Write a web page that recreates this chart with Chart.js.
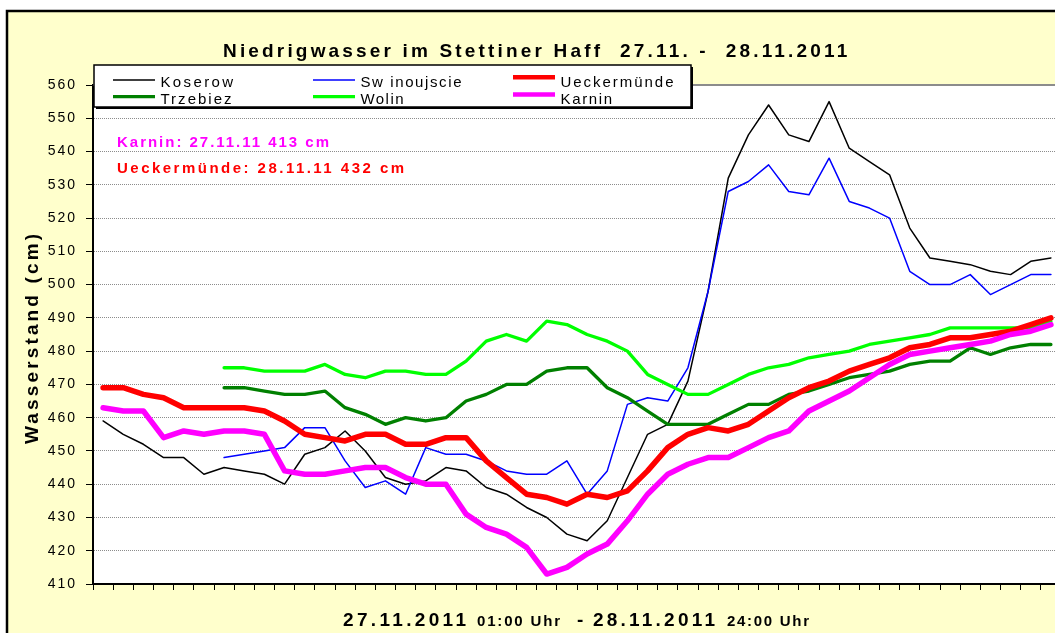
<!DOCTYPE html>
<html lang="de">
<head>
<meta charset="utf-8">
<title>Niedrigwasser im Stettiner Haff</title>
<script src="https://cdn.jsdelivr.net/npm/chart.js@4.4.1/dist/chart.umd.min.js"></script>
<style>
  html, body { margin: 0; padding: 0; background: #fff; overflow: hidden; }
  #wrap { position: absolute; left: 0; top: 0; width: 1080px; height: 633px; }
</style>
</head>
<body>
<div id="wrap"><canvas id="pegel" width="1080" height="633"></canvas></div>
<script>
/* ===============================
      DATEN (Wasserstand in cm)
   =============================== */

// Stunden 01:00 - 24:00 an zwei Tagen
const tage = ["27.11.", "28.11."];
const stunden = ["01:00", "02:00", "03:00", "04:00", "05:00", "06:00", "07:00", "08:00",
  "09:00", "10:00", "11:00", "12:00", "13:00", "14:00", "15:00", "16:00",
  "17:00", "18:00", "19:00", "20:00", "21:00", "22:00", "23:00", "24:00"];

const pegelNamen = ["Koserow", "Sw inoujscie", "Ueckermünde", "Trzebiez", "Wolin", "Karnin"];

const koserow = [459, 455, 452, 448, 448, 443, 445, 444, 443, 440, 449, 451, 456, 450, 442, 440,
  441, 445, 444, 439, 437, 433, 430, 425, 423, 429, 442, 455, 458, 471, 498, 532,
  545, 554, 545, 543, 555, 541, 537, 533, 517, 508, 507, 506, 504, 503, 507, 508];

const swinoujscie = [null, null, null, null, null, null, 448, 449, 450, 451, 457, 457, 447, 439, 441, 437,
  451, 449, 449, 447, 444, 443, 443, 447, 437, 444, 464, 466, 465, 475, 498, 528,
  531, 536, 528, 527, 538, 525, 523, 520, 504, 500, 500, 503, 497, 500, 503, 503];

const ueckermuende = [469, 469, 467, 466, 463, 463, 463, 463, 462, 459, 455, 454, 453, 455, 455, 452,
  452, 454, 454, 447, 442, 437, 436, 434, 437, 436, 438, 444, 451, 455, 457, 456,
  458, 462, 466, 469, 471, 474, 476, 478, 481, 482, 484, 484, 485, 486, 488, 490];

const trzebiez = [null, null, null, null, null, null, 469, 469, 468, 467, 467, 468, 463, 461, 458, 460,
  459, 460, 465, 467, 470, 470, 474, 475, 475, 469, 466, 462, 458, 458, 458, 461,
  464, 464, 467, 468, 470, 472, 473, 474, 476, 477, 477, 481, 479, 481, 482, 482];

const wolin = [null, null, null, null, null, null, 475, 475, 474, 474, 474, 476, 473, 472, 474, 474,
  473, 473, 477, 483, 485, 483, 489, 488, 485, 483, 480, 473, 470, 467, 467, 470,
  473, 475, 476, 478, 479, 480, 482, 483, 484, 485, 487, 487, 487, 487, 487, 489];

const karnin = [463, 462, 462, 454, 456, 455, 456, 456, 455, 444, 443, 443, 444, 445, 445, 442,
  440, 440, 431, 427, 425, 421, 413, 415, 419, 422, 429, 437, 443, 446, 448, 448,
  451, 454, 456, 462, 465, 468, 472, 476, 479, 480, 481, 482, 483, 485, 486, 488];

// Achse
const yMin = 410;
const yMax = 560;
const yStep = 10;

// Texte
const titelText = "Niedrigwasser im Stettiner Haff  27.11. -  28.11.2011";
const yTitel = "Wasserstand (cm)";
const hinweisKarnin = "Karnin: 27.11.11 413 cm";
const hinweisUeckermuende = "Ueckermünde: 28.11.11 432 cm";

const labels = tage.flatMap(t => stunden.map(h => t + " " + h));

/* ===============================
      HILFSFUNKTIONEN
   =============================== */
const FONT = '"Liberation Sans", Arial, sans-serif';

// Gesperrter Text, auf eine Zielbreite gebracht
function sperrText(ctx, text, x, y, font, color, width) {
  ctx.save();
  ctx.font = font;
  ctx.fillStyle = color;
  ctx.textAlign = "left";
  ctx.textBaseline = "alphabetic";
  let sp = 0;
  if (width && text.length > 1) {
    ctx.letterSpacing = "0px";
    sp = (width - ctx.measureText(text).width) / (text.length - 1);
  }
  ctx.letterSpacing = sp.toFixed(2) + "px";
  ctx.fillText(text, x, y);
  ctx.restore();
}

/* ===============================
      PLUGIN: Rahmen, Titel, Legende
   =============================== */
const dekor = {
  id: "dekor",
  beforeDraw(chart) {
    const { ctx, chartArea: a } = chart;
    ctx.save();
    ctx.fillStyle = "#ffffff";
    ctx.fillRect(0, 0, chart.width, chart.height);
    ctx.fillStyle = "#ffffcc";
    ctx.fillRect(7, 11, chart.width, chart.height);
    ctx.strokeStyle = "#000";
    ctx.lineWidth = 2.5;
    ctx.strokeRect(7, 11, chart.width + 20, chart.height + 20);
    ctx.fillStyle = "#ffffff";
    ctx.fillRect(a.left, a.top, a.right - a.left, a.bottom - a.top);
    ctx.restore();
    // Y-Beschriftung leicht gesperrt
    ctx.letterSpacing = "2px";
  },
  beforeDatasetsDraw(chart) {
    const { ctx, chartArea: a } = chart;
    ctx.letterSpacing = "0px";
    ctx.save();
    ctx.strokeStyle = "#8c8c8c";
    ctx.lineWidth = 2;
    ctx.beginPath();
    ctx.moveTo(a.left, a.top);
    ctx.lineTo(a.right, a.top);
    ctx.stroke();
    ctx.restore();
  },
  afterDraw(chart) {
    const ctx = chart.ctx;
    ctx.letterSpacing = "0px";

    // Titel
    sperrText(ctx, titelText, 223, 57, "bold 19px " + FONT, "#000", 624);

    // Legende
    ctx.save();
    ctx.fillStyle = "#000";
    ctx.fillRect(96, 67, 597, 42);
    ctx.fillStyle = "#fff";
    ctx.fillRect(94, 65, 597, 42);
    ctx.strokeStyle = "#000";
    ctx.lineWidth = 1.5;
    ctx.strokeRect(94, 65, 597, 42);
    ctx.restore();

    const spaltenX = [113, 313, 513];
    const zeileY = [80, 96.7];
    const textBreite = [72.6, 101, 113, 71, 43, 51.7];
    const linienVersatz = [0, 0, -2.8, 0, 0, -2.2];
    chart.data.datasets.forEach((ds, i) => {
      const col = i % 3;
      const row = Math.floor(i / 3);
      const x = spaltenX[col];
      const y = zeileY[row] + linienVersatz[i];
      ctx.save();
      ctx.strokeStyle = ds.borderColor;
      ctx.lineWidth = Math.min(ds.borderWidth, 4.5);
      ctx.beginPath();
      ctx.moveTo(x, y);
      ctx.lineTo(x + 42, y);
      ctx.stroke();
      ctx.restore();
      sperrText(ctx, ds.label, x + 47.5, row === 0 ? 87.3 : 104, "15px " + FONT, "#000", textBreite[i]);
    });

    // Hinweise
    sperrText(ctx, hinweisKarnin, 117, 147, "bold 15px " + FONT, "#ff00ff", 212);
    sperrText(ctx, hinweisUeckermuende, 117, 173, "bold 15px " + FONT, "#ff0000", 287);

    // Achsentitel Y
    ctx.save();
    ctx.translate(38, 339);
    ctx.rotate(-Math.PI / 2);
    sperrText(ctx, yTitel, -105, 0, "bold 19px " + FONT, "#000", 210);
    ctx.restore();

    // Achsentitel X
    const big = "bold 19px " + FONT;
    const small = "bold 15px " + FONT;
    sperrText(ctx, "27.11.2011", 343, 626, big, "#000", 123);
    sperrText(ctx, "01:00 Uhr", 477, 626, small, "#000", 83);
    sperrText(ctx, "-", 577, 626, big, "#000", 0);
    sperrText(ctx, "28.11.2011", 593, 626, big, "#000", 122);
    sperrText(ctx, "24:00 Uhr", 727, 626, small, "#000", 82);
  }
};

/* ===============================
      DIAGRAMM
   =============================== */
function serie(label, data, color, width, order) {
  return {
    label,
    data,
    borderColor: color,
    backgroundColor: color,
    borderWidth: width,
    pointRadius: 0,
    pointHoverRadius: 0,
    tension: 0,
    fill: false,
    spanGaps: false,
    borderJoinStyle: "round",
    borderCapStyle: "round",
    order
  };
}

const ctx = document.getElementById("pegel");

new Chart(ctx, {
  type: "line",
  data: {
    labels,
    datasets: [
      serie(pegelNamen[0], koserow, "#000000", 1.5, 6),
      serie(pegelNamen[1], swinoujscie, "#0000ff", 1.5, 5),
      serie(pegelNamen[2], ueckermuende, "#ff0000", 5.5, 2),
      serie(pegelNamen[3], trzebiez, "#008000", 3.3, 4),
      serie(pegelNamen[4], wolin, "#00ff00", 3.3, 3),
      serie(pegelNamen[5], karnin, "#ff00ff", 5.5, 1)
    ]
  },
  options: {
    responsive: false,
    animation: false,
    devicePixelRatio: 1,
    layout: { padding: { left: 0, top: 85, right: 19, bottom: 0 } },
    plugins: {
      legend: { display: false },
      title: { display: false },
      tooltip: { enabled: false }
    },
    scales: {
      x: {
        offset: true,
        ticks: { display: false, autoSkip: false },
        grid: {
          offset: true,
          drawOnChartArea: false,
          drawTicks: true,
          tickLength: 6,
          tickColor: "#000",
          tickWidth: 1
        },
        border: { color: "#000", width: 2 },
        afterFit: s => { s.height = 49; }
      },
      y: {
        min: yMin,
        max: yMax,
        ticks: {
          stepSize: yStep,
          color: "#000",
          padding: 9,
          font: { family: FONT, size: 14 }
        },
        grid: {
          color: "#8c8c8c",
          lineWidth: 1,
          tickColor: "#000",
          tickLength: 7,
          tickWidth: 1
        },
        border: { color: "#000", width: 2, dash: [1, 1] },
        afterFit: s => { s.width = 93; }
      }
    }
  },
  plugins: [dekor]
});
</script>
</body>
</html>
